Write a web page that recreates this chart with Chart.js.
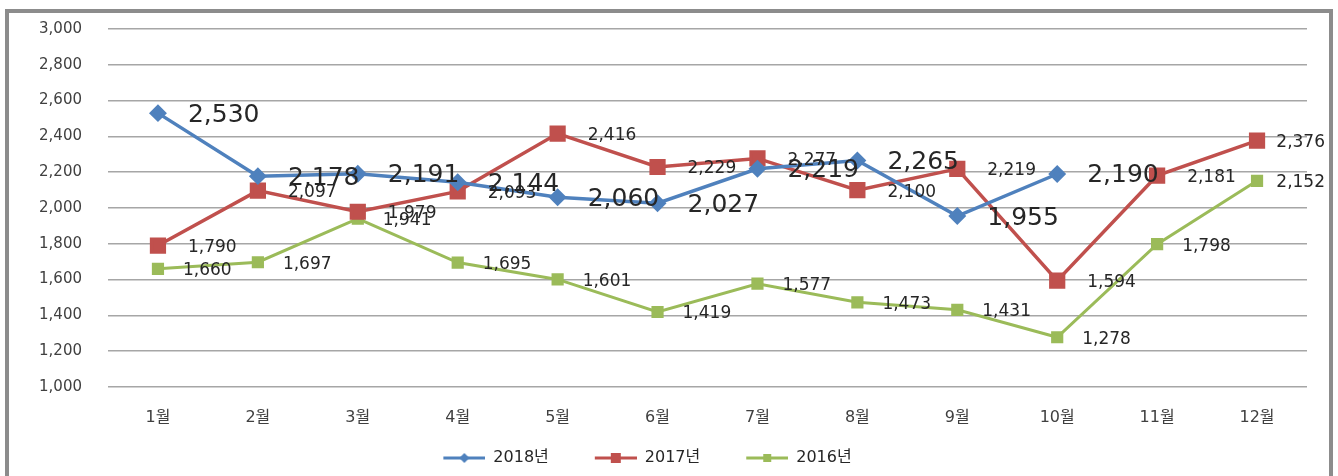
<!DOCTYPE html>
<html>
<head>
<meta charset="utf-8">
<script src="https://cdn.jsdelivr.net/npm/chart.js@4"></script>
<style>
  html, body { margin: 0; padding: 0; background: #fff; }
  #wrap { position: relative; width: 1338px; height: 476px; overflow: hidden; }
  #frame { position: absolute; left: 5px; top: 9px; width: 1320px; height: 480px;
           border: 4px solid #8c8c8c; pointer-events: none; }
</style>
</head>
<body>
<div id="wrap">
  <canvas id="chart"></canvas>
  <div id="frame"></div>
</div>
<script>
const meses = ['1월', '2월', '3월', '4월', '5월', '6월', '7월', '8월', '9월', '10월', '11월', '12월'];
const serie2018 = [2530, 2178, 2191, 2144, 2060, 2027, 2219, 2265, 1955, 2190, null, null];
const serie2017 = [1790, 2097, 1979, 2093, 2416, 2229, 2277, 2100, 2219, 1594, 2181, 2376];
const serie2016 = [1660, 1697, 1941, 1695, 1601, 1419, 1577, 1473, 1431, 1278, 1798, 2152];
const nombres = ['2018년', '2017년', '2016년'];

const FUENTE = "'DejaVu Sans', 'Noto Sans CJK KR', sans-serif";
const AZUL = '#4f81bd', ROJO = '#c0504d', VERDE = '#9bbb59';

// icono de leyenda: hueco a la izquierda + linea + marcador, como en Excel
function iconoLeyenda(color, forma, tam) {
    const c = document.createElement('canvas');
    c.width = 78; c.height = 16;
    const g = c.getContext('2d');
    g.strokeStyle = color; g.lineWidth = 3;
    g.beginPath(); g.moveTo(36, 8); g.lineTo(78, 8); g.stroke();
    g.fillStyle = color;
    const cx = 57;
    if (forma === 'rombo') {
        g.beginPath();
        g.moveTo(cx, 8 - tam); g.lineTo(cx + tam, 8); g.lineTo(cx, 8 + tam); g.lineTo(cx - tam, 8);
        g.closePath(); g.fill();
    } else {
        g.fillRect(cx - tam, 8 - tam, tam * 2, tam * 2);
    }
    return c;
}
const iconos = [iconoLeyenda(AZUL, 'rombo', 5), iconoLeyenda(ROJO, 'cuadro', 5), iconoLeyenda(VERDE, 'cuadro', 4)];

const etiquetasPlugin = {
    id: 'etiquetas',
    afterLayout(chart) {
        // compensar el hueco del primer icono para centrar la leyenda
        chart.legend.left -= 24;
        chart.legend.right -= 24;
    },
    afterDatasetsDraw(chart) {
        const ctx = chart.ctx;
        const limite = chart.width - 13;
        chart.data.datasets.forEach((ds, i) => {
            const meta = chart.getDatasetMeta(i);
            ctx.save();
            ctx.font = `${ds.etiquetaTam}px ${FUENTE}`;
            ctx.fillStyle = '#262626';
            ctx.textAlign = 'left';
            ctx.textBaseline = 'middle';
            meta.data.forEach((pt, j) => {
                const v = ds.data[j];
                if (v === null || v === undefined) return;
                const txt = v.toLocaleString('en-US');
                let x = pt.x + ds.etiquetaDx;
                const w = ctx.measureText(txt).width;
                if (x + w > limite) x = limite - w;
                ctx.fillText(txt, x, pt.y + 2);
            });
            ctx.restore();
        });
    }
};

new Chart(document.getElementById('chart'), {
    type: 'line',
    data: {
        labels: meses,
        datasets: [
            { label: nombres[0], data: serie2018, borderColor: AZUL, backgroundColor: AZUL,
              borderWidth: 3.5, pointStyle: 'rectRot', pointRadius: 6.5, pointHoverRadius: 6.5,
              etiquetaTam: 25, etiquetaDx: 30 },
            { label: nombres[1], data: serie2017, borderColor: ROJO, backgroundColor: ROJO,
              borderWidth: 3.5, pointStyle: 'rect', pointRadius: 9, pointHoverRadius: 9,
              etiquetaTam: 17, etiquetaDx: 30 },
            { label: nombres[2], data: serie2016, borderColor: VERDE, backgroundColor: VERDE,
              borderWidth: 3, pointStyle: 'rect', pointRadius: 6.5, pointHoverRadius: 6.5,
              etiquetaTam: 17, etiquetaDx: 25 }
        ]
    },
    options: {
        responsive: true,
        maintainAspectRatio: false,
        animation: false,
        spanGaps: false,
        layout: { padding: { top: 29, right: 31, left: 0, bottom: 0 } },
        scales: {
            x: {
                offset: true,
                grid: { display: false },
                border: { display: false },
                ticks: { color: '#404040', padding: 13, font: { family: FUENTE, size: 16 } },
                afterFit: s => { s.height = 53; s.paddingTop = 0; }
            },
            y: {
                min: 1000, max: 3000,
                grid: { color: '#a6a6a6', lineWidth: 1.5, drawTicks: false },
                border: { display: false },
                ticks: { stepSize: 200, color: '#404040', padding: 26,
                         font: { family: FUENTE, size: 15 },
                         callback: v => v.toLocaleString('en-US') },
                afterFit: s => { s.width = 108; s.paddingTop = 0; s.paddingBottom = 0; }
            }
        },
        plugins: {
            tooltip: { enabled: false },
            legend: {
                position: 'bottom',
                labels: {
                    usePointStyle: true,
                    pointStyleWidth: 78,
                    padding: 10,
                    color: '#262626',
                    font: { family: FUENTE, size: 16 },
                    generateLabels: chart => {
                        const items = Chart.defaults.plugins.legend.labels.generateLabels(chart);
                        items.forEach((it, i) => { it.pointStyle = iconos[i]; });
                        return items;
                    }
                }
            }
        }
    },
    plugins: [etiquetasPlugin]
});
</script>
</body>
</html>
